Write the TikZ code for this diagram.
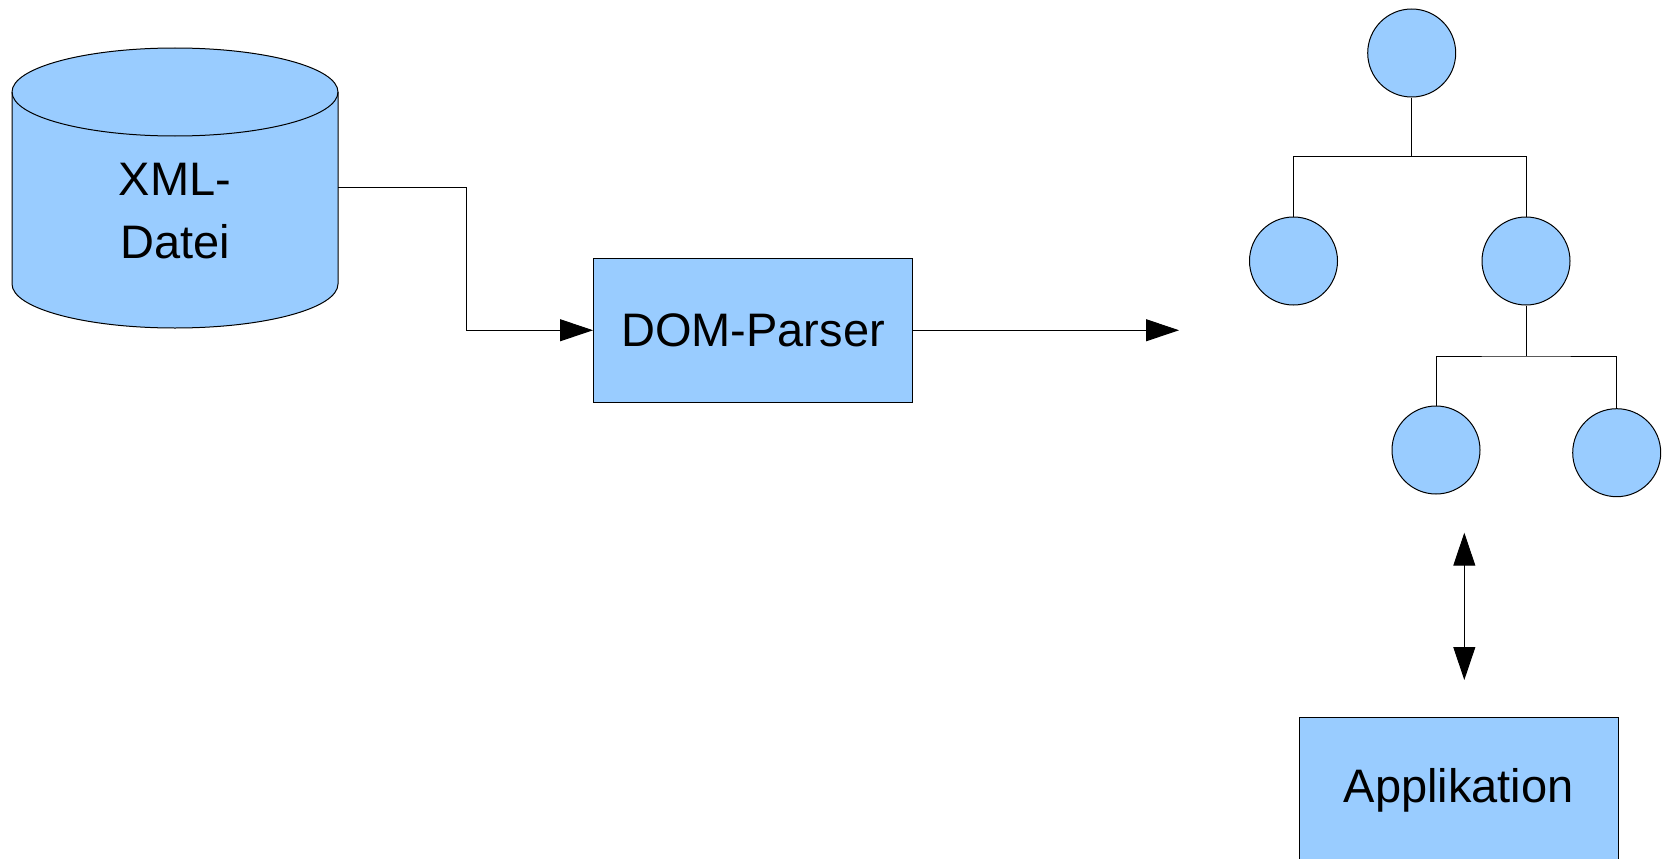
\documentclass[tikz,border=0pt]{standalone}
\usepackage{fontspec}
\setmainfont{Liberation Sans}
\usetikzlibrary{arrows.meta,calc}
\definecolor{boxblue}{HTML}{99CCFF}
\tikzset{
  x=1pt, y=1pt,
  every path/.style={line width=1pt},
  labeltext/.style={font=\fontsize{47}{63.5}\selectfont, align=center},
  procbox/.style={draw=black, fill=boxblue, inner sep=0pt, labeltext},
  treenode/.style={circle, draw=black, fill=boxblue, minimum size=88pt, inner sep=0pt},
  link/.style={draw=black},
  flow/.style={draw=black, -{Triangle[length=33pt,width=22pt]}},
  twoway/.style={draw=black, {Triangle[length=33pt,width=22pt]}-{Triangle[length=33pt,width=22pt]}}
}
\begin{document}
\begin{tikzpicture}
\useasboundingbox (0,0) rectangle (1668,-859);

% database cylinder
\path[fill=boxblue, draw=black] (12,-92) -- (12,-284)
  arc[start angle=180, end angle=360, x radius=163, y radius=44]
  -- (338,-92)
  arc[start angle=0, end angle=180, x radius=163, y radius=44] -- cycle;
\draw (12,-92) arc[start angle=180, end angle=360, x radius=163, y radius=44];
\node[labeltext] (xml) at (175,-211) {XML-\\Datei};
\coordinate (xmlport) at (338,-187);

% parser
\node[procbox, minimum width=319pt, minimum height=143.5pt] (dom) at (753,-330.25) {DOM-Parser};
\coordinate (treein) at (1179,-330.25);

% document tree
\node[treenode] (root) at (1411.7,-53) {};
\node[treenode] (c1) at (1293.5,-261) {};
\node[treenode] (c2) at (1526,-261) {};
\node[treenode] (c21) at (1436,-450) {};
\node[treenode] (c22) at (1616.7,-452.7) {};
\coordinate (j1) at (1411.7,-156.7);
\coordinate (j2) at (1526,-356);

% application
\node[procbox, minimum width=319pt, minimum height=146pt] (app) at (1458.7,-790) {Applikation};
\coordinate (apitop) at (1464.3,-532.7);
\coordinate (apibot) at (1464.3,-680);

% connectors
\draw[flow] (xmlport) -- ++(128,0) |- (dom.west);
\draw[flow] (dom.east) -- (treein);
\draw[link] (root.south) -- (j1);
\draw[link] (c1.north) |- (j1) -| (c2.north);
\draw[link] (c2.south) -- (j2);
\draw[link] (c21.north) |- (j2) -| (c22.north);
\draw[twoway] (apitop) -- (apibot);
\end{tikzpicture}
\end{document}
